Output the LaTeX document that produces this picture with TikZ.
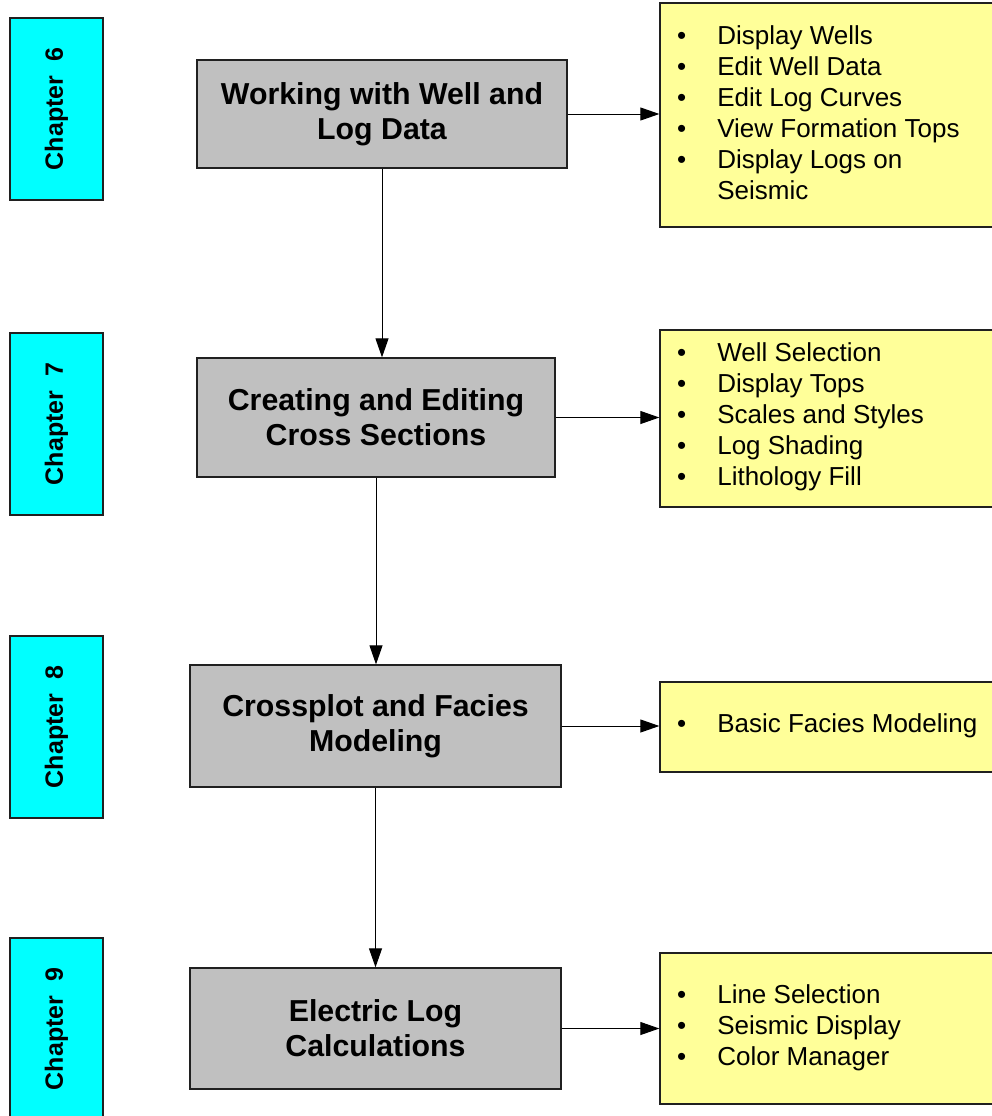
\documentclass[tikz,border=0pt]{standalone}
\usepackage{fontspec}
\setmainfont{Liberation Sans}
\usetikzlibrary{arrows.meta}
\definecolor{chapcyan}{HTML}{00FFFF}
\definecolor{boxgray}{HTML}{C0C0C0}
\definecolor{noteyellow}{HTML}{FFFF99}
\definecolor{edgegray}{HTML}{202020}
\begin{document}
\begin{tikzpicture}[x=1pt,y=-1pt,
  chapbox/.style={draw=edgegray, line width=1.3pt, fill=chapcyan, rotate=90,
    minimum width=182pt, minimum height=93pt, inner sep=0pt,
    font=\fontsize{25}{30}\selectfont\bfseries},
  topicbox/.style={draw=edgegray, line width=1.3pt, fill=boxgray, inner sep=0pt,
    align=center, font=\fontsize{30.3}{35}\selectfont\bfseries},
  notebox/.style={draw=edgegray, line width=1.3pt, fill=noteyellow, inner sep=0pt,
    minimum width=360pt},
  notetext/.style={anchor=west, inner sep=0pt, font=\fontsize{26}{31}\selectfont},
  flow/.style={draw=black, line width=1pt, -{Triangle[length=19pt,width=13pt]}}
]
\useasboundingbox (0,0) rectangle (992,1116);

% chapter tabs
\node[chapbox] (c6) at (56.5,109)  {Chapter\ \ 6};
\node[chapbox] (c7) at (56.5,424)  {Chapter\ \ 7};
\node[chapbox] (c8) at (56.5,727)  {Chapter\ \ 8};
\node[chapbox] (c9) at (56.5,1029) {Chapter\ \ 9};

% topic boxes
\node[topicbox, minimum width=370pt, minimum height=108pt] (b1) at (382,114)
  {Working with Well and\\Log Data};
\node[topicbox, minimum width=358pt, minimum height=119pt] (b2) at (376,417.5)
  {Creating and Editing\\Cross Sections};
\node[topicbox, minimum width=371pt, minimum height=122pt] (b3) at (375.5,726)
  {Crossplot and Facies\\Modeling};
\node[topicbox, minimum width=371pt, minimum height=121pt] (b4) at (375.5,1028.5)
  {Electric Log\\Calculations};

% note boxes
\node[notebox, minimum height=224pt] (y1) at (840,115) {};
\node[notebox, minimum height=177pt] (y2) at (840,418.5) {};
\node[notebox, minimum height=90pt]  (y3) at (840,727) {};
\node[notebox, minimum height=151pt] (y4) at (840,1028.5) {};

\node[notetext] (t1) at (677,116) {\begin{tabular}{@{}l@{\hspace{31pt}}l@{}}
• & Display Wells\\
• & Edit Well Data\\
• & Edit Log Curves\\
• & View Formation Tops\\
• & Display Logs on\\
  & Seismic
\end{tabular}};
\node[notetext] (t2) at (677,417) {\begin{tabular}{@{}l@{\hspace{31pt}}l@{}}
• & Well Selection\\
• & Display Tops\\
• & Scales and Styles\\
• & Log Shading\\
• & Lithology Fill
\end{tabular}};
\node[notetext] (t3) at (677,726) {\begin{tabular}{@{}l@{\hspace{31pt}}l@{}}
• & Basic Facies Modeling
\end{tabular}};
\node[notetext] (t4) at (677,1028) {\begin{tabular}{@{}l@{\hspace{31pt}}l@{}}
• & Line Selection\\
• & Seismic Display\\
• & Color Manager
\end{tabular}};

% connectors
\draw[flow] (b1.south) -- (b1.south |- b2.north);
\draw[flow] (b2.south) -- (b2.south |- b3.north);
\draw[flow] (b3.south) -- (b3.south |- b4.north);
\draw[flow] (b1.east) -- (b1.east -| y1.west);
\draw[flow] (b2.east) -- (b2.east -| y2.west);
\draw[flow] (b3.east) -- (b3.east -| y3.west);
\draw[flow] (b4.east) -- (b4.east -| y4.west);
\end{tikzpicture}
\end{document}
